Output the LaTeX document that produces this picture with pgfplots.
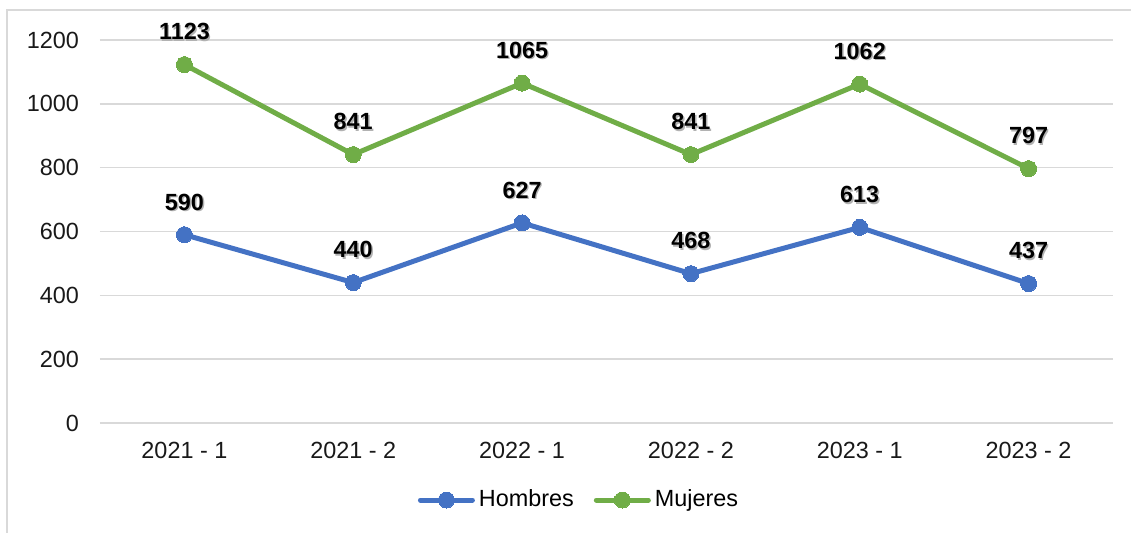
\documentclass[border=0pt]{standalone}
\usepackage{pgfplots}
\pgfplotsset{compat=1.18}
\usepackage{fontspec}
\setmainfont{Liberation Sans}

\definecolor{hombres}{HTML}{4472C4}
\definecolor{mujeres}{HTML}{70AD47}
\definecolor{gridgray}{HTML}{D9D9D9}

% bold label with a soft grey shadow
\newcommand\shlabel[1]{\rlap{\hspace{0.7pt}\raisebox{-0.7pt}{\color{black!30}#1}}#1}

\begin{document}
\begin{tikzpicture}
\useasboundingbox (-50pt,-54.5pt) rectangle (515.5pt,211.5pt);
\draw[gridgray, line width=0.8pt] (-46.5pt,-70pt) -- (-46.5pt,206.5pt) -- (530pt,206.5pt);
\begin{axis}[
    at={(0,0)}, anchor=south west,
    scale only axis,
    width=506.5pt, height=191.5pt,
    xmin=-0.5, xmax=5.5,
    ymin=0, ymax=1200,
    xtick={0,...,5},
    xticklabels={2021 - 1, 2021 - 2, 2022 - 1, 2022 - 2, 2023 - 1, 2023 - 2},
    ytick={0,200,...,1200},
    axis line style={draw=none},
    tick style={draw=none},
    ymajorgrids,
    grid style={gridgray, line width=0.8pt},
    tick label style={font=\fontsize{11.7}{13}\selectfont, text=black!90},
    /pgf/number format/assume math mode=true,
    /pgf/number format/1000 sep={},
    yticklabel style={xshift=-7pt},
    xticklabel style={yshift=-6pt},
    clip=false,
    nodes near coords={\shlabel{\pgfmathprintnumber{\pgfplotspointmeta}}},
    every node near coord/.append style={font=\fontsize{11.7}{13}\selectfont\bfseries, text=black, anchor=center, yshift=16pt},
    legend style={at={(240pt,-38.5pt)}, anchor=center, draw=none, fill=none,
        legend columns=-1, font=\fontsize{11.7}{13}\selectfont,
        /tikz/every even column/.append style={column sep=8pt}},
    legend image code/.code={
        \draw[#1, mark=none, line cap=round] (0pt,0pt) -- (26pt,0pt);
        \draw[#1, only marks] plot coordinates {(13pt,0pt)};
    },
]
\addplot[hombres, line width=2.5pt, mark=*, mark size=4pt, mark options={solid, line width=0pt}]
    coordinates {(0,590) (1,440) (2,627) (3,468) (4,613) (5,437)};
\addlegendentry{Hombres}
\addplot[mujeres, line width=2.5pt, mark=*, mark size=4pt, mark options={solid, line width=0pt}]
    coordinates {(0,1123) (1,841) (2,1065) (3,841) (4,1062) (5,797)};
\addlegendentry{Mujeres}
\end{axis}
\end{tikzpicture}
\end{document}
